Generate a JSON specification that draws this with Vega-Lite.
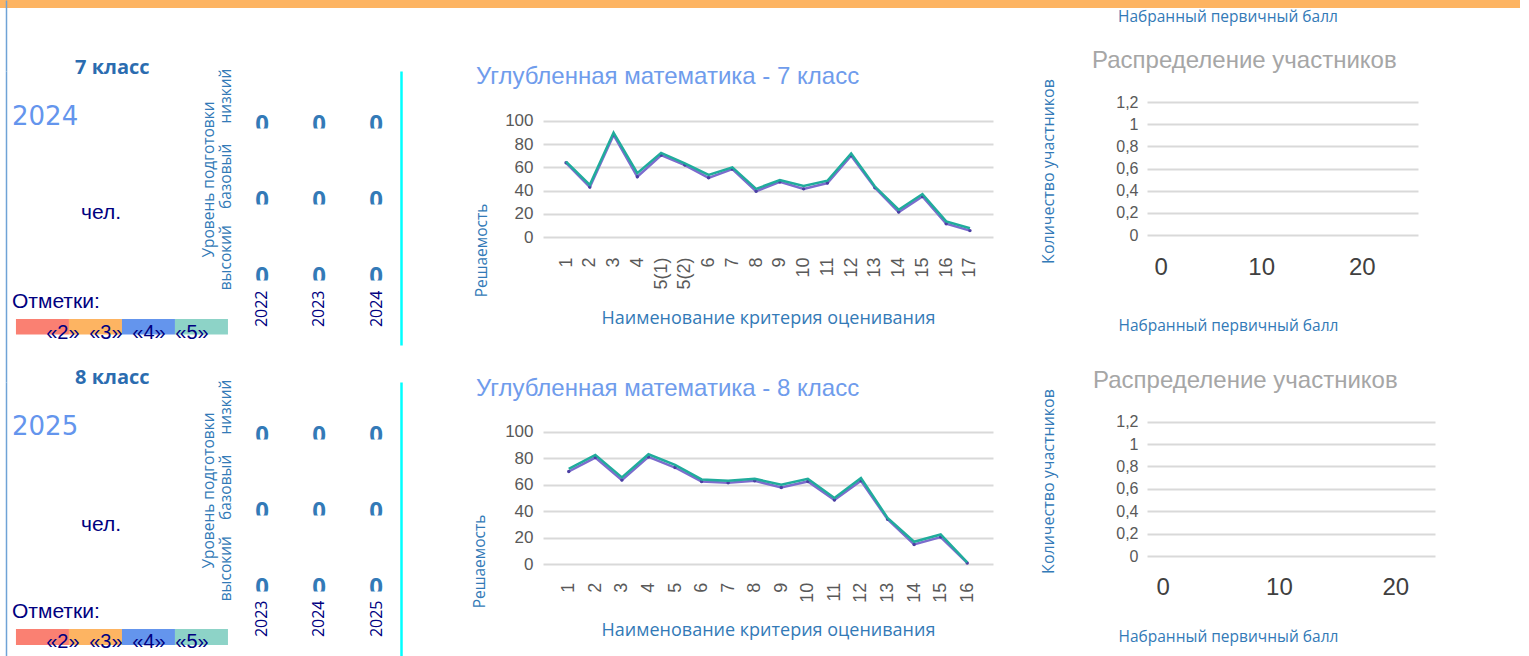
{
  "$schema": "https://vega.github.io/schema/vega-lite/v6.json",
  "padding": 0,
  "background": "white",
  "columns": 6,
  "spacing": 0,
  "bounds": "flush",
  "align": "each",
  "config": {
    "view": {"stroke": null},
    "font": "Liberation Sans",
    "axis": {"labelFont": "Liberation Sans", "titleFont": "Open Sans", "titleFontWeight": "normal"},
    "title": {"fontWeight": "normal"}
  },
  "concat": [
    {
      "width": 240, "height": 71,
      "view": {"stroke": null, "fill": {"gradient": "linear", "x1": 0, "y1": 0, "x2": 0, "y2": 1, "stops": [
        {"offset": 0, "color": "#FDB462"}, {"offset": 0.1127, "color": "#FDB462"}, {"offset": 0.1127, "color": "#ffffff"}, {"offset": 1, "color": "#ffffff"}]}},
      "data": {"values": []},
      "mark": "point",
      "encoding": {
        "y": {"field": "v", "type": "quantitative", "scale": {"domain": [0, 1]},
              "axis": {"orient": "left", "offset": -6, "domain": true, "domainColor": "#6fa3d6", "domainWidth": 1.5, "labels": false, "ticks": false, "grid": false, "title": null}}
      }
    },
    {"width": 161, "height": 8, "view": {"fill": "#FDB462", "stroke": null}, "data": {"values": []}, "mark": "point"},
    {"width": 142, "height": 8, "view": {"fill": "#FDB462", "stroke": null}, "data": {"values": []}, "mark": "point"},
    {"width": 450, "height": 8, "view": {"fill": "#FDB462", "stroke": null}, "data": {"values": []}, "mark": "point"},
    {"width": 154, "height": 8, "view": {"fill": "#FDB462", "stroke": null}, "data": {"values": []}, "mark": "point"},
    {
      "width": 373, "height": 8, "view": {"fill": "#FDB462", "stroke": null},
      "title": {"text": "Набранный первичный балл", "orient": "bottom", "anchor": "start", "frame": "group", "dx": -29, "offset": 9, "baseline": "middle", "font": "Open Sans", "fontSize": 15.5, "color": "#337ab7"},
      "data": {"values": []}, "mark": "point"
    },

    {
      "width": 240, "height": 311,
      "title": {"text": "7 класс", "anchor": "start", "frame": "group", "dx": 75, "offset": -17, "baseline": "middle", "font": "Open Sans", "fontSize": 20, "fontWeight": "bold", "color": "#2b6cb0"},
      "layer": [
        {
          "data": {"values": [{"part": "year", "label": "2024"}, {"part": "count", "label": "чел."}, {"part": "marks", "label": "Отметки:"}]},
          "encoding": {
            "y": {"field": "part", "type": "nominal", "scale": {"type": "point", "domain": ["year", "count", "marks"], "padding": 0.681, "align": 0.365},
                  "axis": {"orient": "left", "offset": -6, "domain": true, "domainColor": "#6fa3d6", "domainWidth": 1.5, "labels": false, "ticks": false, "grid": false, "title": null}},
            "text": {"field": "label"}
          },
          "layer": [
            {"transform": [{"filter": "datum.part === 'year'"}], "mark": {"type": "text", "align": "left", "baseline": "middle", "dx": -108, "font": "DejaVu Sans", "fontSize": 26, "color": "#6495ED"}},
            {"transform": [{"filter": "datum.part === 'count'"}], "mark": {"type": "text", "align": "center", "baseline": "middle", "dx": -19, "dy": 4, "font": "Liberation Sans", "fontSize": 21, "color": "#000080"}},
            {"transform": [{"filter": "datum.part === 'marks'"}], "mark": {"type": "text", "align": "left", "baseline": "middle", "dx": -108, "font": "Liberation Sans", "fontSize": 21, "color": "#000080"}}
          ]
        },
        {
          "data": {"values": [{"grade": "«2»"}, {"grade": "«3»"}, {"grade": "«4»"}, {"grade": "«5»"}]},
          "encoding": {
            "y": {"datum": "grades", "type": "nominal", "scale": {"type": "point", "domain": ["grades"], "padding": 0, "align": 0.8224}, "axis": null}
          },
          "layer": [
            {
              "mark": {"type": "bar", "height": 15.5},
              "encoding": {
                "x": {"field": "grade", "type": "nominal", "sort": null, "scale": {"type": "band", "paddingInner": 0, "paddingOuter": 0.264, "align": 0.57}, "axis": null},
                "color": {"field": "grade", "type": "nominal", "scale": {"domain": ["«2»", "«3»", "«4»", "«5»"], "range": ["#FA8072", "#FDB462", "#6495ED", "#8DD3C7"]}, "legend": null}
              }
            },
            {
              "mark": {"type": "text", "baseline": "middle", "dy": 6, "font": "Liberation Sans", "fontSize": 20, "color": "#000080"},
              "encoding": {
                "x": {"field": "grade", "type": "nominal", "sort": null, "scale": {"type": "band", "paddingInner": 0.42, "paddingOuter": 1, "align": 0.5865}, "axis": null},
                "text": {"field": "grade"}
              }
            }
          ],
          "resolve": {"scale": {"x": "independent"}}
        }
      ],
      "resolve": {"scale": {"x": "independent", "y": "independent"}, "axis": {"y": "independent", "x": "independent"}}
    },
    {
      "width": 161, "height": 274,
      "data": {"values": [
        {"year": "2022", "level": "низкий", "n": 0}, {"year": "2023", "level": "низкий", "n": 0}, {"year": "2024", "level": "низкий", "n": 0},
        {"year": "2022", "level": "базовый", "n": 0}, {"year": "2023", "level": "базовый", "n": 0}, {"year": "2024", "level": "базовый", "n": 0},
        {"year": "2022", "level": "высокий", "n": 0}, {"year": "2023", "level": "высокий", "n": 0}, {"year": "2024", "level": "высокий", "n": 0}
      ]},
      "mark": {"type": "text", "font": "Open Sans", "fontSize": 24, "fontWeight": "bold", "baseline": "alphabetic", "color": "#337ab7"},
      "encoding": {
        "x": {"field": "year", "type": "ordinal", "scale": {"type": "point", "padding": 0.412, "align": 0.468},
              "axis": {"orient": "bottom", "offset": -55, "labelAngle": -90, "labelPadding": 0, "labelFont": "Open Sans", "labelFontSize": 16, "labelColor": "#000080", "domain": false, "ticks": false, "grid": false, "title": null}},
        "y": {"field": "level", "type": "nominal", "scale": {"type": "point", "domain": ["низкий", "базовый", "высокий"], "padding": 0.791, "align": 0.5},
              "axis": {"orient": "right", "domain": true, "domainColor": "#00FFFF", "domainWidth": 2.5, "labels": false, "ticks": false, "grid": true, "gridColor": "white", "gridWidth": 8, "gridOpacity": 1, "zindex": 1,
                       "title": ["Уровень подготовки", "высокий\u00a0\u00a0\u00a0\u00a0базовый\u00a0\u00a0\u00a0\u00a0\u00a0низкий"],
                       "titleX": -192.5, "titleY": 108, "titleAngle": -90, "titleAlign": "center", "titleBaseline": "middle", "titleFont": "Open Sans", "titleFontSize": 15.5, "titleColor": "#337ab7", "titleLineHeight": 17}},
        "text": {"field": "n"}
      }
    },
    {"width": 142, "height": 1, "data": {"values": []}, "mark": "point"},
    {
      "width": 450, "height": 166,
      "title": {"text": "Углубленная математика - 7 класс", "anchor": "start", "frame": "group", "dx": -67, "offset": -30, "baseline": "middle", "font": "Liberation Sans", "fontSize": 24, "color": "#6f9cec"},
      "data": {"values": [
        {"c": "1", "s": "Школа", "v": 65}, {"c": "2", "s": "Школа", "v": 45}, {"c": "3", "s": "Школа", "v": 90}, {"c": "4", "s": "Школа", "v": 55},
        {"c": "5(1)", "s": "Школа", "v": 72.5}, {"c": "5(2)", "s": "Школа", "v": 63.5}, {"c": "6", "s": "Школа", "v": 53.5}, {"c": "7", "s": "Школа", "v": 60},
        {"c": "8", "s": "Школа", "v": 41.5}, {"c": "9", "s": "Школа", "v": 49}, {"c": "10", "s": "Школа", "v": 44}, {"c": "11", "s": "Школа", "v": 48.5},
        {"c": "12", "s": "Школа", "v": 72}, {"c": "13", "s": "Школа", "v": 43.5}, {"c": "14", "s": "Школа", "v": 23.5}, {"c": "15", "s": "Школа", "v": 37},
        {"c": "16", "s": "Школа", "v": 13.5}, {"c": "17", "s": "Школа", "v": 7.5},
        {"c": "1", "s": "Регион", "v": 64}, {"c": "2", "s": "Регион", "v": 43}, {"c": "3", "s": "Регион", "v": 88}, {"c": "4", "s": "Регион", "v": 52},
        {"c": "5(1)", "s": "Регион", "v": 70.5}, {"c": "5(2)", "s": "Регион", "v": 62}, {"c": "6", "s": "Регион", "v": 51}, {"c": "7", "s": "Регион", "v": 58.5},
        {"c": "8", "s": "Регион", "v": 39.5}, {"c": "9", "s": "Регион", "v": 47.5}, {"c": "10", "s": "Регион", "v": 41.5}, {"c": "11", "s": "Регион", "v": 46.5},
        {"c": "12", "s": "Регион", "v": 70}, {"c": "13", "s": "Регион", "v": 42.5}, {"c": "14", "s": "Регион", "v": 21.5}, {"c": "15", "s": "Регион", "v": 35},
        {"c": "16", "s": "Регион", "v": 11.5}, {"c": "17", "s": "Регион", "v": 5.5}
      ]},
      "encoding": {
        "x": {"field": "c", "type": "ordinal", "scale": {"type": "point", "padding": 0.97, "domain": ["1", "2", "3", "4", "5(1)", "5(2)", "6", "7", "8", "9", "10", "11", "12", "13", "14", "15", "16", "17"]},
              "axis": {"labelAngle": -90, "labelPadding": 20, "labelFontSize": 18, "labelColor": "#595959", "domain": false, "ticks": false, "grid": false,
                       "title": "Наименование критерия оценивания", "titleX": 225, "titleY": 81, "titleAlign": "center", "titleBaseline": "middle", "titleFontSize": 18, "titleColor": "#337ab7"}},
        "y": {"field": "v", "type": "quantitative", "scale": {"domain": [0, 143.1], "nice": false, "zero": true},
              "axis": {"values": [0, 20, 40, 60, 80, 100], "grid": true, "gridColor": "#d9d9d9", "gridWidth": 2, "domain": false, "ticks": false, "labelPadding": 10, "labelFontSize": 17, "labelColor": "#595959",
                       "title": "Решаемость", "titleX": -62, "titleY": 179, "titleAngle": -90, "titleAlign": "center", "titleBaseline": "middle", "titleFontSize": 15.5, "titleColor": "#337ab7"}}
      },
      "layer": [
        {"transform": [{"filter": "datum.s === 'Регион'"}], "mark": {"type": "line", "color": "#7c6ccd", "strokeWidth": 2.5, "point": {"filled": true, "size": 12, "color": "#4b3fa3"}}},
        {"transform": [{"filter": "datum.s === 'Школа'"}], "mark": {"type": "line", "color": "#20ac9c", "strokeWidth": 2.5}}
      ]
    },
    {"width": 154, "height": 1, "data": {"values": []}, "mark": "point"},
    {
      "width": 271, "height": 164,
      "title": {"text": "Распределение участников", "anchor": "start", "frame": "group", "dx": -55, "offset": -14, "baseline": "middle", "font": "Liberation Sans", "fontSize": 24, "color": "#a6a6a6"},
      "data": {"values": [
        {"score": 0, "count": 0}, {"score": 1, "count": 0}, {"score": 2, "count": 0}, {"score": 3, "count": 0}, {"score": 4, "count": 0},
        {"score": 5, "count": 0}, {"score": 6, "count": 0}, {"score": 7, "count": 0}, {"score": 8, "count": 0}, {"score": 9, "count": 0},
        {"score": 10, "count": 0}, {"score": 11, "count": 0}, {"score": 12, "count": 0}, {"score": 13, "count": 0}, {"score": 14, "count": 0},
        {"score": 15, "count": 0}, {"score": 16, "count": 0}, {"score": 17, "count": 0}, {"score": 18, "count": 0}, {"score": 19, "count": 0},
        {"score": 20, "count": 0}, {"score": 21, "count": 0}, {"score": 22, "count": 0}, {"score": 23, "count": 0}, {"score": 24, "count": 0}
      ]},
      "mark": {"type": "bar", "color": "#7cb5ec"},
      "encoding": {
        "x": {"field": "score", "type": "quantitative", "scale": {"domain": [-0.85, 25.08], "nice": false, "zero": false},
              "axis": {"values": [0, 10, 20], "labelFlush": false, "labelPadding": 20, "labelFontSize": 24, "labelColor": "#404040", "domain": false, "ticks": false, "grid": false,
                       "title": "Набранный первичный балл", "titleX": -29, "titleY": 90, "titleAlign": "left", "titleBaseline": "middle", "titleFontSize": 15.5, "titleColor": "#337ab7"}},
        "y": {"field": "count", "type": "quantitative", "scale": {"domain": [0, 1.4797], "nice": false},
              "axis": {"values": [0, 0.2, 0.4, 0.6, 0.8, 1, 1.2], "labelExpr": "replace(format(datum.value, '~g'), '.', ',')", "grid": true, "gridColor": "#d9d9d9", "gridWidth": 2, "domain": false, "ticks": false, "labelPadding": 9, "labelFontSize": 16, "labelColor": "#595959",
                       "title": "Количество участников", "titleX": -99, "titleY": 100, "titleAngle": -90, "titleAlign": "center", "titleBaseline": "middle", "titleFontSize": 16, "titleColor": "#337ab7"}}
      }
    },

    {
      "width": 240, "height": 274,
      "title": {"text": "8 класс", "anchor": "start", "frame": "group", "dx": 75, "offset": -16, "baseline": "middle", "font": "Open Sans", "fontSize": 20, "fontWeight": "bold", "color": "#2b6cb0"},
      "layer": [
        {
          "data": {"values": [{"part": "year", "label": "2025"}, {"part": "count", "label": "чел."}, {"part": "marks", "label": "Отметки:"}]},
          "encoding": {
            "y": {"field": "part", "type": "nominal", "scale": {"type": "point", "domain": ["year", "count", "marks"], "padding": 0.481, "align": 0.506},
                  "axis": {"orient": "left", "offset": -6, "domain": true, "domainColor": "#6fa3d6", "domainWidth": 1.5, "labels": false, "ticks": false, "grid": false, "title": null}},
            "text": {"field": "label"}
          },
          "layer": [
            {"transform": [{"filter": "datum.part === 'year'"}], "mark": {"type": "text", "align": "left", "baseline": "middle", "dx": -108, "font": "DejaVu Sans", "fontSize": 26, "color": "#6495ED"}},
            {"transform": [{"filter": "datum.part === 'count'"}], "mark": {"type": "text", "align": "center", "baseline": "middle", "dx": -19, "dy": 5, "font": "Liberation Sans", "fontSize": 21, "color": "#000080"}},
            {"transform": [{"filter": "datum.part === 'marks'"}], "mark": {"type": "text", "align": "left", "baseline": "middle", "dx": -108, "font": "Liberation Sans", "fontSize": 21, "color": "#000080"}}
          ]
        },
        {
          "data": {"values": [{"grade": "«2»"}, {"grade": "«3»"}, {"grade": "«4»"}, {"grade": "«5»"}]},
          "encoding": {
            "y": {"datum": "grades", "type": "nominal", "scale": {"type": "point", "domain": ["grades"], "padding": 0, "align": 0.9307}, "axis": null}
          },
          "layer": [
            {
              "mark": {"type": "bar", "height": 16},
              "encoding": {
                "x": {"field": "grade", "type": "nominal", "sort": null, "scale": {"type": "band", "paddingInner": 0, "paddingOuter": 0.264, "align": 0.57}, "axis": null},
                "color": {"field": "grade", "type": "nominal", "scale": {"domain": ["«2»", "«3»", "«4»", "«5»"], "range": ["#FA8072", "#FDB462", "#6495ED", "#8DD3C7"]}, "legend": null}
              }
            },
            {
              "mark": {"type": "text", "baseline": "middle", "dy": 5, "font": "Liberation Sans", "fontSize": 20, "color": "#000080"},
              "encoding": {
                "x": {"field": "grade", "type": "nominal", "sort": null, "scale": {"type": "band", "paddingInner": 0.42, "paddingOuter": 1, "align": 0.5865}, "axis": null},
                "text": {"field": "grade"}
              }
            }
          ],
          "resolve": {"scale": {"x": "independent"}}
        }
      ],
      "resolve": {"scale": {"x": "independent", "y": "independent"}, "axis": {"y": "independent", "x": "independent"}}
    },
    {
      "width": 161, "height": 274,
      "data": {"values": [
        {"year": "2023", "level": "низкий", "n": 0}, {"year": "2024", "level": "низкий", "n": 0}, {"year": "2025", "level": "низкий", "n": 0},
        {"year": "2023", "level": "базовый", "n": 0}, {"year": "2024", "level": "базовый", "n": 0}, {"year": "2025", "level": "базовый", "n": 0},
        {"year": "2023", "level": "высокий", "n": 0}, {"year": "2024", "level": "высокий", "n": 0}, {"year": "2025", "level": "высокий", "n": 0}
      ]},
      "mark": {"type": "text", "font": "Open Sans", "fontSize": 24, "fontWeight": "bold", "baseline": "alphabetic", "color": "#337ab7"},
      "encoding": {
        "x": {"field": "year", "type": "ordinal", "scale": {"type": "point", "padding": 0.412, "align": 0.468},
              "axis": {"orient": "bottom", "offset": -56, "labelAngle": -90, "labelPadding": 0, "labelFont": "Open Sans", "labelFontSize": 16, "labelColor": "#000080", "domain": false, "ticks": false, "grid": false, "title": null}},
        "y": {"field": "level", "type": "nominal", "scale": {"type": "point", "domain": ["низкий", "базовый", "высокий"], "padding": 0.791, "align": 0.5},
              "axis": {"orient": "right", "domain": true, "domainColor": "#00FFFF", "domainWidth": 2.5, "labels": false, "ticks": false, "grid": true, "gridColor": "white", "gridWidth": 8, "gridOpacity": 1, "zindex": 1,
                       "title": ["Уровень подготовки", "высокий\u00a0\u00a0\u00a0\u00a0базовый\u00a0\u00a0\u00a0\u00a0\u00a0низкий"],
                       "titleX": -192.5, "titleY": 108, "titleAngle": -90, "titleAlign": "center", "titleBaseline": "middle", "titleFont": "Open Sans", "titleFontSize": 15.5, "titleColor": "#337ab7", "titleLineHeight": 17}},
        "text": {"field": "n"}
      }
    },
    {"width": 142, "height": 1, "data": {"values": []}, "mark": "point"},
    {
      "width": 450, "height": 182.3,
      "title": {"text": "Углубленная математика - 8 класс", "anchor": "start", "frame": "group", "dx": -67, "offset": -31, "baseline": "middle", "font": "Liberation Sans", "fontSize": 24, "color": "#6f9cec"},
      "data": {"values": [
        {"c": "1", "s": "Школа", "v": 72}, {"c": "2", "s": "Школа", "v": 82.5}, {"c": "3", "s": "Школа", "v": 65.5}, {"c": "4", "s": "Школа", "v": 83},
        {"c": "5", "s": "Школа", "v": 75}, {"c": "6", "s": "Школа", "v": 64}, {"c": "7", "s": "Школа", "v": 63}, {"c": "8", "s": "Школа", "v": 64.5},
        {"c": "9", "s": "Школа", "v": 60}, {"c": "10", "s": "Школа", "v": 64.5}, {"c": "11", "s": "Школа", "v": 50}, {"c": "12", "s": "Школа", "v": 65},
        {"c": "13", "s": "Школа", "v": 35}, {"c": "14", "s": "Школа", "v": 17}, {"c": "15", "s": "Школа", "v": 22.5}, {"c": "16", "s": "Школа", "v": 1.5},
        {"c": "1", "s": "Регион", "v": 70}, {"c": "2", "s": "Регион", "v": 80.5}, {"c": "3", "s": "Регион", "v": 63.5}, {"c": "4", "s": "Регион", "v": 81},
        {"c": "5", "s": "Регион", "v": 73}, {"c": "6", "s": "Регион", "v": 62.5}, {"c": "7", "s": "Регион", "v": 61.5}, {"c": "8", "s": "Регион", "v": 63},
        {"c": "9", "s": "Регион", "v": 58}, {"c": "10", "s": "Регион", "v": 62.5}, {"c": "11", "s": "Регион", "v": 48.5}, {"c": "12", "s": "Регион", "v": 63},
        {"c": "13", "s": "Регион", "v": 34}, {"c": "14", "s": "Регион", "v": 15}, {"c": "15", "s": "Регион", "v": 20.5}, {"c": "16", "s": "Регион", "v": 1}
      ]},
      "encoding": {
        "x": {"field": "c", "type": "ordinal", "scale": {"type": "point", "padding": 0.97, "domain": ["1", "2", "3", "4", "5", "6", "7", "8", "9", "10", "11", "12", "13", "14", "15", "16"]},
              "axis": {"labelAngle": -90, "labelPadding": 18, "labelFontSize": 18, "labelColor": "#595959", "domain": false, "ticks": false, "grid": false,
                       "title": "Наименование критерия оценивания", "titleX": 225, "titleY": 66, "titleAlign": "center", "titleBaseline": "middle", "titleFontSize": 18, "titleColor": "#337ab7"}},
        "y": {"field": "v", "type": "quantitative", "scale": {"domain": [0, 137.5], "nice": false, "zero": true},
              "axis": {"values": [0, 20, 40, 60, 80, 100], "grid": true, "gridColor": "#d9d9d9", "gridWidth": 2, "domain": false, "ticks": false, "labelPadding": 10, "labelFontSize": 17, "labelColor": "#595959",
                       "title": "Решаемость", "titleX": -64, "titleY": 179, "titleAngle": -90, "titleAlign": "center", "titleBaseline": "middle", "titleFontSize": 15.5, "titleColor": "#337ab7"}}
      },
      "layer": [
        {"transform": [{"filter": "datum.s === 'Регион'"}], "mark": {"type": "line", "color": "#7c6ccd", "strokeWidth": 2.5, "point": {"filled": true, "size": 12, "color": "#4b3fa3"}}},
        {"transform": [{"filter": "datum.s === 'Школа'"}], "mark": {"type": "line", "color": "#20ac9c", "strokeWidth": 2.5}}
      ]
    },
    {"width": 154, "height": 1, "data": {"values": []}, "mark": "point"},
    {
      "width": 288, "height": 174,
      "title": {"text": "Распределение участников", "anchor": "start", "frame": "group", "dx": -54, "offset": -23, "baseline": "middle", "font": "Liberation Sans", "fontSize": 24, "color": "#a6a6a6"},
      "data": {"values": [
        {"score": 0, "count": 0}, {"score": 1, "count": 0}, {"score": 2, "count": 0}, {"score": 3, "count": 0}, {"score": 4, "count": 0},
        {"score": 5, "count": 0}, {"score": 6, "count": 0}, {"score": 7, "count": 0}, {"score": 8, "count": 0}, {"score": 9, "count": 0},
        {"score": 10, "count": 0}, {"score": 11, "count": 0}, {"score": 12, "count": 0}, {"score": 13, "count": 0}, {"score": 14, "count": 0},
        {"score": 15, "count": 0}, {"score": 16, "count": 0}, {"score": 17, "count": 0}, {"score": 18, "count": 0}, {"score": 19, "count": 0},
        {"score": 20, "count": 0}, {"score": 21, "count": 0}, {"score": 22, "count": 0}
      ]},
      "mark": {"type": "bar", "color": "#7cb5ec"},
      "encoding": {
        "x": {"field": "score", "type": "quantitative", "scale": {"domain": [-0.913, 22.99], "nice": false, "zero": false},
              "axis": {"values": [0, 10, 20], "labelFlush": false, "labelPadding": 19, "labelFontSize": 24, "labelColor": "#404040", "domain": false, "ticks": false, "grid": false,
                       "title": "Набранный первичный балл", "titleX": -29, "titleY": 80, "titleAlign": "left", "titleBaseline": "middle", "titleFontSize": 15.5, "titleColor": "#337ab7"}},
        "y": {"field": "count", "type": "quantitative", "scale": {"domain": [0, 1.5548], "nice": false},
              "axis": {"values": [0, 0.2, 0.4, 0.6, 0.8, 1, 1.2], "labelExpr": "replace(format(datum.value, '~g'), '.', ',')", "grid": true, "gridColor": "#d9d9d9", "gridWidth": 2, "domain": false, "ticks": false, "labelPadding": 9, "labelFontSize": 16, "labelColor": "#595959",
                       "title": "Количество участников", "titleX": -99, "titleY": 99, "titleAngle": -90, "titleAlign": "center", "titleBaseline": "middle", "titleFontSize": 16, "titleColor": "#337ab7"}}
      }
    }
  ]
}
